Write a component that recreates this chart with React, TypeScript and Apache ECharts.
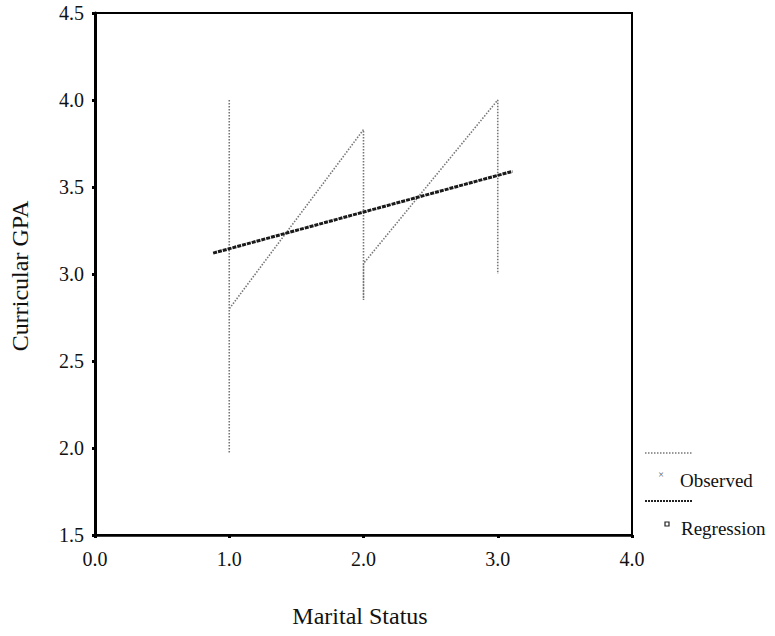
import React, { useEffect, useRef } from "react";
import * as echarts from "echarts";

// Observed data (connected in data order, sorted by marital status)
const observedX = [1, 1, 1, 2, 2, 2, 3, 3];
const observedY = [4.0, 1.97, 2.8, 3.83, 2.85, 3.06, 4.0, 3.0];

// Linear regression fit line (end points)
const regressionX = [0.88, 3.11];
const regressionY = [3.12, 3.59];

const xTicks = { min: 0, max: 4, interval: 1 };
const yTicks = { min: 1.5, max: 4.5, interval: 0.5 };

const xTitle = "Marital Status";
const yTitle = "Curricular GPA";
const legendNames = ["Observed", "Regression"];

const FONT = "Liberation Serif, Times New Roman, serif";

export default function App() {
  const ref = useRef<HTMLDivElement>(null);
  useEffect(() => {
    document.body.style.margin = "0";
    const chart = echarts.init(ref.current!, null, { renderer: "svg" });
    const observed = observedX.map((x, i) => [x, observedY[i]]);
    const regression = regressionX.map((x, i) => [x, regressionY[i]]);
    chart.setOption({
      animation: false,
      backgroundColor: "#ffffff",
      textStyle: { fontFamily: FONT },
      grid: {
        left: 95,
        right: 143,
        top: 13,
        bottom: 101,
        show: true,
        borderColor: "#000",
        borderWidth: 2,
        backgroundColor: "transparent",
      },
      xAxis: {
        type: "value",
        min: xTicks.min,
        max: xTicks.max,
        interval: xTicks.interval,
        axisLine: { show: true, lineStyle: { color: "#000", width: 2.5 } },
        axisTick: { show: true, length: 3, lineStyle: { color: "#000", width: 3 } },
        splitLine: { show: false },
        axisLabel: {
          margin: 14,
          fontFamily: FONT,
          fontSize: 20,
          color: "#111",
          formatter: (v: number) => v.toFixed(1),
        },
      },
      yAxis: {
        type: "value",
        min: yTicks.min,
        max: yTicks.max,
        interval: yTicks.interval,
        axisLine: { show: true, lineStyle: { color: "#000", width: 3 } },
        axisTick: { show: true, length: 3, lineStyle: { color: "#000", width: 3 } },
        splitLine: { show: false },
        axisLabel: {
          margin: 11,
          fontFamily: FONT,
          fontSize: 20,
          color: "#111",
          formatter: (v: number) => v.toFixed(1),
        },
      },
      series: [
        {
          name: legendNames[0],
          type: "line",
          data: observed,
          symbol: "none",
          lineStyle: { color: "#777", width: 1.6, type: [1.5, 1.5] },
          z: 2,
        },
        {
          name: legendNames[1],
          type: "line",
          data: regression,
          symbol: "none",
          lineStyle: { color: "#1a1a1a", width: 3, type: [4, 1] },
          z: 3,
        },
      ],
      graphic: [
        {
          type: "text",
          x: 20,
          y: 276,
          rotation: Math.PI / 2,
          style: {
            text: yTitle,
            fontFamily: FONT,
            fontSize: 24,
            fill: "#111",
            align: "center",
            verticalAlign: "middle",
          },
        },
        {
          type: "text",
          x: 360,
          y: 616,
          style: {
            text: xTitle,
            fontFamily: FONT,
            fontSize: 24,
            fill: "#111",
            align: "center",
            verticalAlign: "middle",
          },
        },
        {
          type: "line",
          shape: { x1: 645, y1: 453, x2: 693, y2: 453 },
          style: { stroke: "#777", lineWidth: 1.5, lineDash: [1.5, 1.5] },
        },
        {
          type: "text",
          x: 661,
          y: 474,
          style: {
            text: "×",
            fontFamily: FONT,
            fontSize: 10,
            fill: "#555",
            align: "center",
            verticalAlign: "middle",
          },
        },
        {
          type: "text",
          x: 680,
          y: 480,
          style: {
            text: legendNames[0],
            fontFamily: FONT,
            fontSize: 19,
            fill: "#111",
            align: "left",
            verticalAlign: "middle",
          },
        },
        {
          type: "line",
          shape: { x1: 645, y1: 501, x2: 693, y2: 501 },
          style: { stroke: "#222", lineWidth: 2, lineDash: [2, 1] },
        },
        {
          type: "rect",
          shape: { x: 665, y: 522, width: 4, height: 4 },
          style: { fill: "#fff", stroke: "#222", lineWidth: 1.2 },
        },
        {
          type: "text",
          x: 681,
          y: 528,
          style: {
            text: legendNames[1],
            fontFamily: FONT,
            fontSize: 19,
            fill: "#111",
            align: "left",
            verticalAlign: "middle",
          },
        },
      ],
    });
    return () => chart.dispose();
  }, []);
  return <div ref={ref} style={{ width: 775, height: 636 }} />;
}
